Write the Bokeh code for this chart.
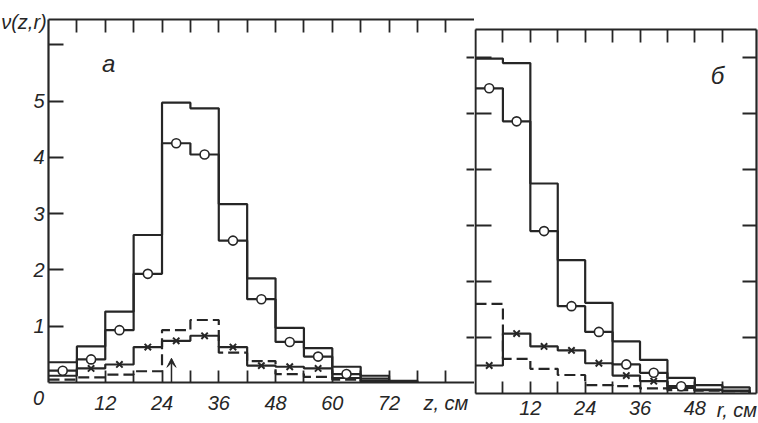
from bokeh.plotting import figure
from bokeh.layouts import row
from bokeh.models import Range1d, LinearAxis, FixedTicker, Label, Arrow, VeeHead
from bokeh.embed import file_html
from bokeh.resources import INLINE

# ---------------- data ----------------
# panel а : distribution along z (bins of 6 cm)
z_bins = [0, 6, 12, 18, 24, 30, 36, 42, 48, 54, 60, 66, 72, 78]
a_total = [0.36, 0.64, 1.26, 2.62, 4.97, 4.87, 3.17, 1.85, 0.97, 0.61, 0.28, 0.12, 0.03]
a_circ = [0.21, 0.41, 0.93, 1.93, 4.25, 4.05, 2.52, 1.48, 0.72, 0.46, 0.15, 0.07]
a_cross = [0.12, 0.25, 0.32, 0.63, 0.74, 0.83, 0.63, 0.30, 0.28, 0.25, 0.08, 0.03]
a_dash = [0.05, 0.09, 0.14, 0.20, 0.93, 1.11, 0.53, 0.38, 0.15, 0.10, 0.05, 0.02]
a_arrow_z = 26
a_arrow_top = 0.43

# panel б : distribution along r (bins of 6 cm)
r_bins = [0, 6, 12, 18, 24, 30, 36, 42, 48, 54, 60]
b_total = [5.98, 5.90, 3.75, 2.38, 1.62, 0.93, 0.60, 0.28, 0.15, 0.11]
b_circ = [5.45, 4.86, 2.90, 1.56, 1.10, 0.52, 0.37, 0.13, 0.07, 0.05]
b_cross = [0.50, 1.07, 0.84, 0.77, 0.54, 0.32, 0.22, 0.10, 0.06, 0.04]
b_dash = [1.60, 0.62, 0.44, 0.33, 0.15, 0.13, 0.09, 0.06, 0.05, 0.04]

y_ticks = [1, 2, 3, 4, 5, 6]
y_tick_labels = {1: "1", 2: "2", 3: "3", 4: "4", 5: "5", 6: ""}
z_ticks = [6, 12, 18, 24, 30, 36, 42, 48, 54, 60, 66, 72, 78, 84]
z_tick_labels = {6: "", 12: "12", 18: "", 24: "24", 30: "", 36: "36", 42: "",
                 48: "48", 54: "", 60: "60", 66: "", 72: "72", 78: "", 84: "z, см"}
r_ticks = [6, 12, 18, 24, 30, 36, 42, 48, 54]
r_tick_labels = {6: "", 12: "12", 18: "", 24: "24", 30: "", 36: "36", 42: "",
                 48: "48", 54: ""}

# ---------------- geometry / style ----------------
A_PX_X, A_X0 = 4.73, 48      # px per cm, pixel of z = 0 (panel а)
A_PX_Y, A_Y0 = 56.3, 382     # px per unit, pixel of ν = 0 (panel а)
B_PX_X, B_X0 = 4.57, 1       # panel б (local pixels)
B_PX_Y, B_Y0 = 56.0, 393
A_W, B_W, H = 474, 284, 423
A_TOP = 6.45
B_TOP = 6.5
Z_MAX = (A_W - A_X0) / A_PX_X - 0.05
R_MAX = 61.49

INK = "#262626"
LW = 2.2
FONT = "Liberation Sans Narrow, Liberation Sans, sans-serif"
FS = "20px"


def make_fig(width, xr, yr):
    p = figure(width=width, height=H, x_range=Range1d(*xr), y_range=Range1d(*yr),
               output_backend="svg", toolbar_location=None,
               x_axis_location=None, y_axis_location=None,
               min_border_left=0, min_border_right=0,
               min_border_top=0, min_border_bottom=0, min_border=0)
    p.grid.visible = False
    p.outline_line_color = None
    p.background_fill_color = "white"
    p.border_fill_color = "white"
    return p


def axis(loc, bounds, ticks, labels, tick_in, standoff=0, line=True):
    ax = LinearAxis(fixed_location=loc, bounds=bounds,
                    ticker=FixedTicker(ticks=ticks), major_label_overrides=labels,
                    major_tick_in=tick_in, major_tick_out=0,
                    minor_tick_line_color=None,
                    axis_line_color=INK if line else None, axis_line_width=LW,
                    major_tick_line_color=INK, major_tick_line_width=1.8,
                    major_label_standoff=standoff,
                    major_label_text_font=FONT, major_label_text_font_size=FS,
                    major_label_text_font_style="italic", major_label_text_color=INK)
    return ax


def blank(ticks):
    return {t: "" for t in ticks}


def hist(p, bins, vals, dash="solid"):
    xs = bins[:len(vals) + 1]
    ys = list(vals) + [0]
    p.step(xs, ys, mode="after", line_color=INK, line_width=LW, line_dash=dash)


def marks(p, bins, vals, idx, kind):
    cx = [(bins[i] + bins[i + 1]) / 2 for i in idx]
    cy = [vals[i] for i in idx]
    if kind == "circle":
        p.scatter(cx, cy, marker="circle", size=9, fill_color="white",
                  line_color=INK, line_width=1.6)
    else:
        p.scatter(cx, cy, marker="x", size=9, line_color=INK, line_width=2)


def label(p, x, y, text, size=FS, align="center"):
    p.add_layout(Label(x=x, y=y, text=text, text_font=FONT, text_font_size=size,
                       text_font_style="italic", text_color=INK, text_baseline="middle",
                       text_align=align))


# ---------------- panel а ----------------
pa = make_fig(A_W, (-A_X0 / A_PX_X, (A_W - A_X0) / A_PX_X),
              (-(H - A_Y0) / A_PX_Y, A_Y0 / A_PX_Y))
# the divider ticks sit at the heights of panel б's scale
shared_ticks = {(B_PX_Y * v - (B_Y0 - A_Y0)) / A_PX_Y: "" for v in y_ticks}
pa.add_layout(axis(0, (0, Z_MAX), z_ticks, z_tick_labels, 12, 9), "below")
pa.add_layout(axis(0, (0, A_TOP), y_ticks, y_tick_labels, 15, 4), "left")
pa.add_layout(axis(A_TOP, (0, Z_MAX), z_ticks, blank(z_ticks), 13), "above")
pa.add_layout(axis(Z_MAX, (0, A_TOP), list(shared_ticks), shared_ticks, 8, 0, False), "right")

hist(pa, z_bins, a_total)
hist(pa, z_bins, a_circ)
hist(pa, z_bins, a_cross)
hist(pa, z_bins, a_dash, "11 5")
marks(pa, z_bins, a_circ, range(0, 11), "circle")
marks(pa, z_bins, a_cross, range(1, 10), "x")

pa.add_layout(Arrow(end=VeeHead(size=9, fill_color=INK, line_color=INK, line_width=1),
                    x_start=a_arrow_z, y_start=0, x_end=a_arrow_z, y_end=a_arrow_top,
                    line_color=INK, line_width=1.5))

label(pa, -10.0, 6.41, "ν(z,r)", "20px", "left")
label(pa, -2.1, -0.27, "0")
label(pa, 12.7, 5.67, "а", "24px")

# ---------------- panel б ----------------
pb = make_fig(B_W, (-B_X0 / B_PX_X, (B_W - B_X0) / B_PX_X),
              (-(H - B_Y0) / B_PX_Y, B_Y0 / B_PX_Y))
pb.add_layout(axis(0, (0, R_MAX), r_ticks, r_tick_labels, 12, 7), "below")
pb.add_layout(axis(0, (0, B_TOP), y_ticks, blank(y_ticks), 16), "left")
pb.add_layout(axis(B_TOP, (0, R_MAX), r_ticks, blank(r_ticks), 13), "above")
pb.add_layout(axis(R_MAX, (0, B_TOP), y_ticks, blank(y_ticks), 14), "right")

hist(pb, r_bins, b_total)
hist(pb, r_bins, b_circ)
hist(pb, r_bins, b_cross)
hist(pb, r_bins, b_dash, "11 5")
marks(pb, r_bins, b_circ, range(0, 8), "circle")
marks(pb, r_bins, b_cross, range(0, 7), "x")

label(pb, 61.6, -0.3, "r, см", FS, "right")
label(pb, 52.95, 5.68, "б", "24px")

layout = row(pa, pb, spacing=0)
open("out.html", "w").write(file_html(layout, INLINE))
